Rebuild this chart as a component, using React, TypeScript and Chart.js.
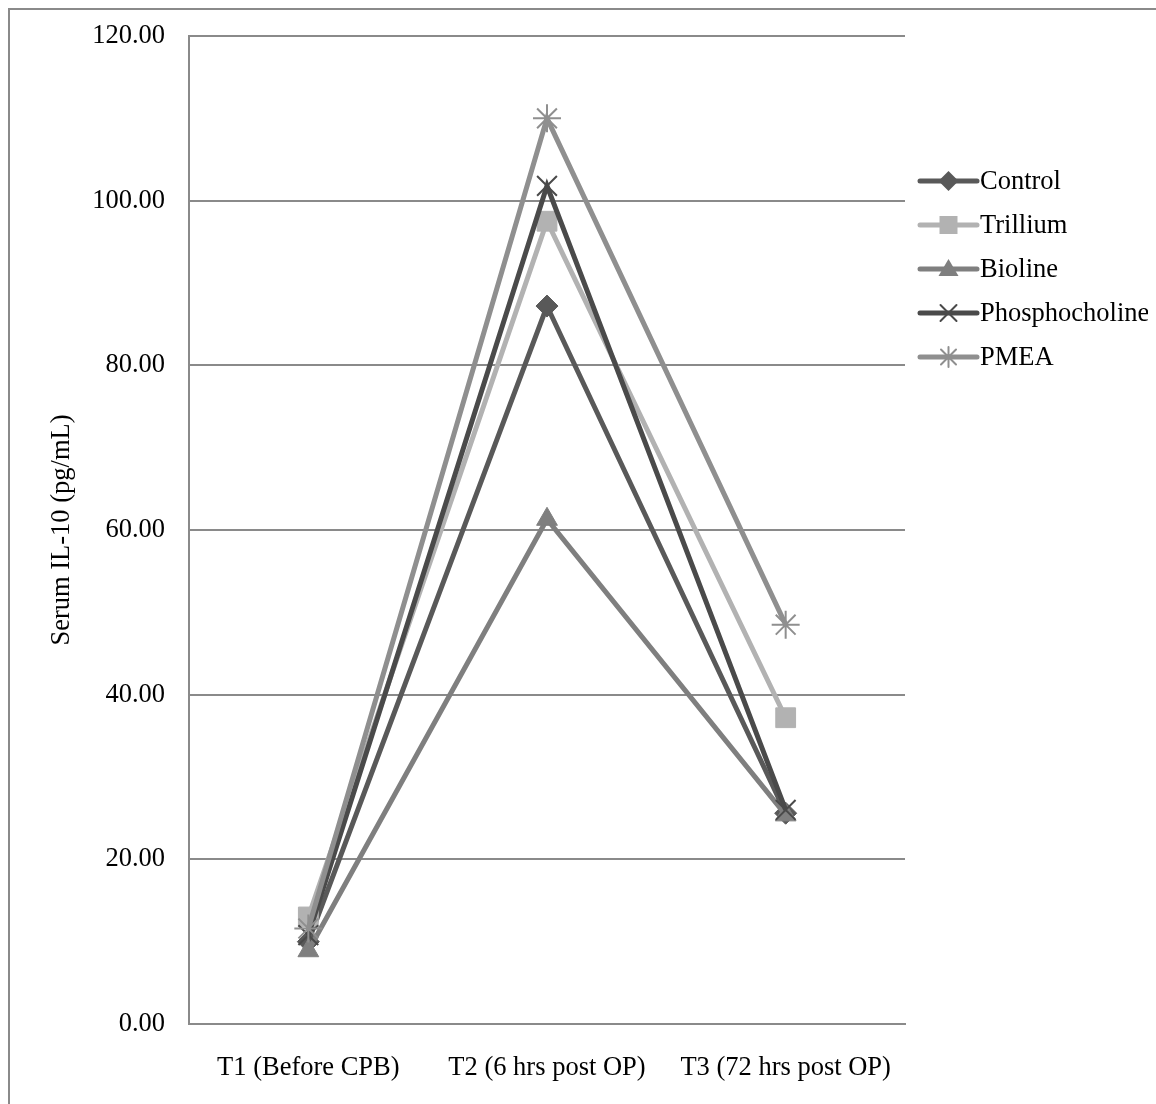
import React, { useEffect, useRef } from "react";
import { Chart, registerables } from "chart.js";

Chart.register(...registerables);

const categories = ["T1 (Before CPB)", "T2 (6 hrs post OP)", "T3 (72 hrs post OP)"];
const seriesNames = ["Control", "Trillium", "Bioline", "Phosphocholine", "PMEA"];
const controlValues = [10.0, 87.2, 25.6];
const trilliumValues = [13.0, 97.5, 37.2];
const biolineValues = [8.9, 61.3, 25.4];
const phosphocholineValues = [10.8, 101.8, 26.0];
const pmeaValues = [11.6, 110.0, 48.5];
const yTicks = [0, 20, 40, 60, 80, 100, 120];

const seriesColors = ["#595959", "#b2b2b2", "#7f7f7f", "#4a4a4a", "#8f8f8f"];
const seriesStyles = ["rectRot", "rect", "triangle", "crossRot", "star"];
const FONT = "'Liberation Serif', 'Times New Roman', serif";
const FONT_SIZE = 26.5;

function drawMarker(ctx: CanvasRenderingContext2D, style: string, x: number, y: number, r: number, color: string) {
  ctx.save();
  ctx.fillStyle = color;
  ctx.strokeStyle = color;
  ctx.beginPath();
  if (style === "rectRot") {
    ctx.moveTo(x, y - r);
    ctx.lineTo(x + r, y);
    ctx.lineTo(x, y + r);
    ctx.lineTo(x - r, y);
    ctx.closePath();
    ctx.fill();
  } else if (style === "rect") {
    const s = r * 0.9;
    ctx.rect(x - s, y - s, 2 * s, 2 * s);
    ctx.fill();
  } else if (style === "triangle") {
    ctx.moveTo(x, y - r);
    ctx.lineTo(x + r, y + r * 0.7);
    ctx.lineTo(x - r, y + r * 0.7);
    ctx.closePath();
    ctx.fill();
  } else if (style === "crossRot") {
    const s = r * 0.8;
    ctx.lineWidth = 2;
    ctx.moveTo(x - s, y - s);
    ctx.lineTo(x + s, y + s);
    ctx.moveTo(x + s, y - s);
    ctx.lineTo(x - s, y + s);
    ctx.stroke();
  } else if (style === "star") {
    const s = r * 0.75;
    ctx.lineWidth = 2;
    ctx.moveTo(x - s, y - s);
    ctx.lineTo(x + s, y + s);
    ctx.moveTo(x + s, y - s);
    ctx.lineTo(x - s, y + s);
    ctx.moveTo(x, y - r);
    ctx.lineTo(x, y + r);
    ctx.stroke();
  }
  ctx.restore();
}

const legendPlugin = {
  id: "customLegend",
  afterDraw(chart: any) {
    const ctx = chart.ctx as CanvasRenderingContext2D;
    const area = chart.chartArea;
    const x0 = area.right + 15;
    const x1 = x0 + 57;
    const y0 = 171;
    const step = 44;
    ctx.save();
    chart.data.datasets.forEach((ds: any, i: number) => {
      const y = y0 + i * step;
      ctx.strokeStyle = ds.borderColor;
      ctx.lineWidth = 5;
      ctx.lineCap = "round";
      ctx.beginPath();
      ctx.moveTo(x0, y);
      ctx.lineTo(x1, y);
      ctx.stroke();
      drawMarker(ctx, ds.pointStyle, (x0 + x1) / 2, y, 10, ds.borderColor);
      ctx.fillStyle = "#000";
      ctx.font = `${FONT_SIZE}px ${FONT}`;
      ctx.textAlign = "left";
      ctx.textBaseline = "middle";
      ctx.fillText(ds.label, x1 + 3, y + 1);
    });
    ctx.restore();
  },
};

export default function App() {
  const canvasRef = useRef<HTMLCanvasElement | null>(null);

  useEffect(() => {
    if (!canvasRef.current) return;
    const values = [controlValues, trilliumValues, biolineValues, phosphocholineValues, pmeaValues];
    const radii: Record<string, number> = { rectRot: 11, rect: 14, triangle: 12, crossRot: 14, star: 14 };
    const datasets = seriesNames.map((name, i) => {
      const isLineMarker = seriesStyles[i] === "crossRot" || seriesStyles[i] === "star";
      return {
        label: name,
        data: values[i],
        borderColor: seriesColors[i],
        backgroundColor: seriesColors[i],
        borderWidth: 5,
        pointStyle: seriesStyles[i],
        pointRadius: radii[seriesStyles[i]],
        pointBorderWidth: isLineMarker ? 2 : 1,
        pointBackgroundColor: seriesColors[i],
        pointBorderColor: seriesColors[i],
        tension: 0,
        order: seriesNames.length - i,
      };
    });
    const chart = new Chart(canvasRef.current, {
      type: "line",
      data: { labels: categories, datasets },
      options: {
        animation: false,
        responsive: false,
        maintainAspectRatio: false,
        layout: { padding: { top: 26, right: 251, left: 0, bottom: 0 } },
        plugins: { legend: { display: false }, tooltip: { enabled: false } },
        scales: {
          x: {
            offset: true,
            grid: { display: false, drawTicks: false },
            border: { display: true, color: "#8a8a8a", width: 2 },
            ticks: { color: "#000", font: { family: FONT, size: FONT_SIZE }, padding: 28, maxRotation: 0 },
            afterFit: (scale: any) => {
              scale.height = 80;
              scale.paddingLeft = 0;
              scale.paddingRight = 0;
            },
          },
          y: {
            min: 0,
            max: 120,
            afterBuildTicks: (scale: any) => {
              scale.ticks = yTicks.map((v) => ({ value: v }));
            },
            grid: { color: "#8a8a8a", lineWidth: 2, drawTicks: false },
            border: { display: true, color: "#8a8a8a", width: 2 },
            ticks: {
              color: "#000",
              font: { family: FONT, size: FONT_SIZE },
              padding: 24,
              callback: (v: any) => Number(v).toFixed(2),
            },
            title: {
              display: true,
              text: "Serum IL-10 (pg/mL)",
              color: "#000",
              font: { family: FONT, size: FONT_SIZE },
              padding: { top: 36, bottom: 0 },
            },
            afterFit: (scale: any) => {
              scale.width = 179;
              scale.paddingTop = 0;
              scale.paddingBottom = 0;
            },
          },
        },
      },
      plugins: [legendPlugin],
    } as any);
    return () => chart.destroy();
  }, []);

  return (
    <div style={{ position: "relative", width: 1148, height: 1096 }}>
      <div
        style={{
          position: "fixed",
          left: 8,
          top: 8,
          right: 0,
          bottom: 0,
          borderLeft: "2px solid #8a8a8a",
          borderTop: "2px solid #8a8a8a",
          pointerEvents: "none",
        }}
      />
      <canvas
        ref={canvasRef}
        width={1146}
        height={1094}
        style={{ display: "block", position: "absolute", left: 2, top: 2, width: 1146, height: 1094 }}
      />
    </div>
  );
}
